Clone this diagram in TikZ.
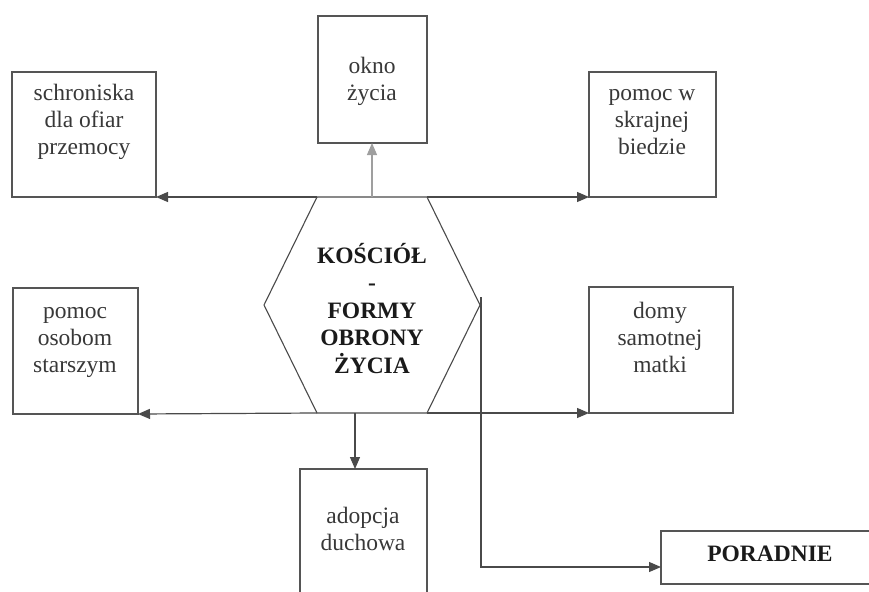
\documentclass[tikz,border=0pt]{standalone}
\usepackage{fontspec}
\setmainfont{Liberation Serif}
\usetikzlibrary{arrows.meta}
\definecolor{boxline}{HTML}{555555}
\definecolor{connline}{HTML}{4A4A4A}
\definecolor{txtgray}{HTML}{383838}
\definecolor{boldtxt}{HTML}{1A1A1A}
\begin{document}
\begin{tikzpicture}[x=1pt,y=-1pt,
  box/.style={draw=boxline, line width=1.6pt, rectangle, inner sep=0pt, outer sep=0pt, anchor=north west},
  txt/.style={align=center, inner sep=0pt, anchor=base, text=txtgray, font=\fontsize{23.5}{27}\selectfont},
  btxt/.style={align=center, inner sep=0pt, anchor=base, text=boldtxt, font=\fontsize{23.5}{27.5}\selectfont\bfseries},
  conn/.style={draw=connline, line width=1.2pt},
  arr/.style={conn, -{Triangle[length=12pt,width=10pt]}},
  hexline/.style={draw=connline, line width=1.1pt, line join=miter}
]
\useasboundingbox (0,0) rectangle (869,591);

% boxes
\node[box, minimum width=144pt, minimum height=125pt] (schr) at (12,72) {};
\node[box, minimum width=109pt, minimum height=127pt] (okno) at (318,16) {};
\node[box, minimum width=127pt, minimum height=125pt] (bieda) at (589,72) {};
\node[box, minimum width=125pt, minimum height=126pt] (starsi) at (13,288) {};
\node[box, minimum width=144pt, minimum height=126pt] (domy) at (589,287) {};
\node[box, minimum width=127pt, minimum height=135pt] (adop) at (300,469) {};
\node[box, minimum width=220pt, minimum height=53pt] (por) at (661,531) {};

% texts (anchor base = baseline of the last line)
\node[txt] (schrT) at (84,154.5) {schroniska\\dla ofiar\\przemocy};
\node[txt] (oknoT) at (372,100.5) {okno\\życia};
\node[txt] (biedaT) at (652,154.5) {pomoc w\\skrajnej\\biedzie};
\node[txt] (starsiT) at (75,372) {pomoc\\osobom\\starszym};
\node[txt] (domyT) at (660,372) {domy\\samotnej\\matki};
\node[txt] (adopT) at (363,550.5) {adopcja\\duchowa};
\node[btxt] (porT) at (770,561) {PORADNIE};

% hexagon
\coordinate (hTL) at (317,197);
\coordinate (hTR) at (427,197);
\coordinate (hR) at (480,305);
\coordinate (hBR) at (427,413);
\coordinate (hBL) at (317,413);
\coordinate (hL) at (264,305);
\draw[hexline] (hTL) -- (hTR) -- (hR) -- (hBR) -- (hBL) -- (hL) -- cycle;
\node[btxt] (hex) at (372,373) {KOŚCIÓŁ\\-\\FORMY\\OBRONY\\ŻYCIA};

% connectors
\draw[arr] (hTL) -- (schr.south east);
\draw[arr] (hTR) -- (bieda.south west);
\coordinate (u1) at (372,197);
\draw[arr, draw=gray!75] (u1) -- (u1 |- okno.south);
\draw[arr] (hBL) -- (starsi.south east);
\draw[arr] (hBR) -- (domy.south west);
\coordinate (d1) at (355,413);
\draw[arr] (d1) -- (d1 |- adop.north);
\coordinate (p1) at (481,297);
\coordinate (p2) at (481,567);
\draw[arr] (p1) -- (p2) -- (p2 -| por.west);
\end{tikzpicture}
\end{document}
